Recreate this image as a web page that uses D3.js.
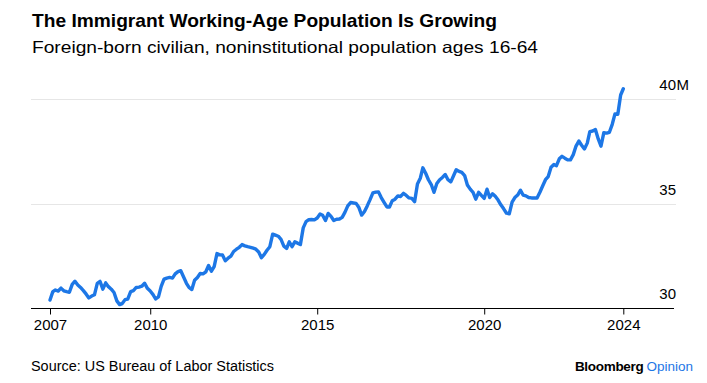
<!DOCTYPE html>
<html>
<head>
<meta charset="utf-8">
<script src="https://cdn.jsdelivr.net/npm/d3@7"></script>
<style>
  html, body { margin: 0; padding: 0; background: #fff; }
  svg { display: block; }
  text { font-family: "Liberation Sans", Arial, sans-serif; }
</style>
</head>
<body>
<svg id="chart" width="707" height="383"></svg>
<script>
// ---- Data (millions), monthly from Jan 2007 to Mar 2024 ----
const startYear = 2007;
const startMonth = 0;
const population = [
  // 2007
  30.40, 30.80, 30.88, 30.83, 30.97, 30.84, 30.80, 30.77, 31.15, 31.30, 31.12, 31.00,
  // 2008
  30.85, 30.68, 30.50, 30.59, 30.65, 31.20, 31.29, 30.92, 31.22, 31.04, 30.92, 30.76,
  // 2009
  30.36, 30.18, 30.23, 30.42, 30.45, 30.80, 30.85, 31.00, 31.02, 31.06, 31.20, 30.96,
  // 2010
  30.83, 30.66, 30.45, 30.55, 31.05, 31.40, 31.45, 31.48, 31.45, 31.65, 31.76, 31.80,
  // 2011
  31.50, 31.20, 31.00, 30.90, 31.35, 31.48, 31.67, 31.65, 31.75, 32.05, 31.78, 32.00,
  // 2012
  32.62, 32.56, 32.55, 32.28, 32.40, 32.50, 32.72, 32.83, 32.92, 33.05, 32.99, 32.95,
  // 2013
  32.92, 32.88, 32.83, 32.70, 32.42, 32.58, 32.78, 32.95, 33.55, 33.50, 33.45, 33.30,
  // 2014
  32.98, 32.87, 33.18, 32.95, 33.18, 33.12, 33.05, 33.85, 34.15, 34.24, 34.25, 34.23,
  // 2015
  34.32, 34.51, 34.45, 34.20, 34.54, 34.40, 34.20, 34.26, 34.27, 34.35, 34.60, 34.90,
  // 2016
  35.06, 35.04, 35.02, 34.82, 34.46, 34.63, 34.90, 35.20, 35.52, 35.56, 35.57, 35.30,
  // 2017
  35.07, 34.85, 34.85, 35.15, 35.22, 35.38, 35.35, 35.50, 35.40, 35.28, 35.26, 35.10,
  // 2018
  35.95, 36.22, 36.72, 36.46, 36.15, 35.92, 35.55, 35.97, 36.15, 36.26, 36.40, 36.15,
  // 2019
  36.05, 36.35, 36.63, 36.55, 36.50, 36.35, 35.90, 35.70, 35.55, 35.22, 35.55, 35.40,
  // 2020
  35.26, 35.70, 35.30, 35.48, 35.36, 35.18, 34.95, 34.76, 34.55, 34.52, 35.08, 35.30,
  // 2021
  35.42, 35.65, 35.42, 35.38, 35.30, 35.28, 35.28, 35.28, 35.55, 35.85, 36.15, 36.30,
  // 2022
  36.75, 36.88, 36.82, 37.15, 37.27, 37.18, 37.10, 37.10, 37.35, 37.76, 38.00, 37.80,
  // 2023
  37.62, 37.90, 38.45, 38.48, 38.55, 38.10, 37.75, 38.40, 38.38, 38.42, 38.80, 39.30,
  // 2024
  39.28, 40.20, 40.50
];
const tickYears = [2007, 2010, 2015, 2020, 2024];
const yTicks = [30, 35, 40];
const yUnit = "M";

const titleText = "The Immigrant Working-Age Population Is Growing";
const subtitleText = "Foreign-born civilian, noninstitutional population ages 16-64";
const sourceText = "Source: US Bureau of Labor Statistics";

// ---- Build data ----
const data = population.map((v, i) => ({ date: new Date(startYear, startMonth + i, 1), value: v }));
const lastDate = data[data.length - 1].date;

const svg = d3.select("#chart");

const x = d3.scaleTime()
  .domain([data[0].date, lastDate])
  .range([50, 623.3]);

const y = d3.scaleLinear()
  .domain([30, 40])
  .range([308.4, 99.2]);

const left = 31, right = 674;

// Gridlines
svg.append("g")
  .selectAll("line")
  .data(yTicks.filter(t => t !== y.domain()[0]))
  .join("line")
  .attr("x1", left).attr("x2", 676)
  .attr("y1", d => Math.round(y(d)) + 0.5)
  .attr("y2", d => Math.round(y(d)) + 0.5)
  .attr("stroke", "#e6e6e6")
  .attr("stroke-width", 1);

// Y labels (right side, above gridline)
const yLab = svg.append("g");
yTicks.forEach((t, i) => {
  const yy = y(t) - 9;
  yLab.append("text")
    .attr("x", 676).attr("y", yy)
    .attr("text-anchor", "end")
    .attr("font-size", 15)
    .attr("fill", "#000")
    .text(t);
  if (i === yTicks.length - 1) {
    yLab.append("text")
      .attr("x", 676.5).attr("y", yy)
      .attr("text-anchor", "start")
      .attr("font-size", 15)
      .attr("fill", "#000")
      .text(yUnit);
  }
});

// X axis
const tickDates = tickYears.map(yr => yr === lastDate.getFullYear() ? lastDate : new Date(yr, 0, 1));
const xAxis = d3.axisBottom(x)
  .tickValues(tickDates)
  .tickFormat((d, i) => String(tickYears[i]))
  .tickSize(6)
  .tickSizeOuter(0)
  .tickPadding(5);

const axisG = svg.append("g")
  .attr("transform", `translate(0,${Math.round(y(30)) + 0.5})`)
  .call(xAxis);
axisG.select(".domain").remove();
axisG.append("line")
  .attr("x1", left).attr("x2", right)
  .attr("y1", 0).attr("y2", 0)
  .attr("stroke", "#000").attr("stroke-width", 1.2);
axisG.selectAll(".tick line").attr("stroke", "#000");
axisG.selectAll(".tick text")
  .attr("font-size", 15)
  .attr("font-family", "Liberation Sans, Arial, sans-serif")
  .attr("fill", "#000");

// Line
const line = d3.line()
  .x(d => x(d.date))
  .y(d => y(d.value));

svg.append("path")
  .datum(data)
  .attr("d", line)
  .attr("fill", "none")
  .attr("stroke", "#1d77e6")
  .attr("stroke-width", 3.4)
  .attr("stroke-linejoin", "round")
  .attr("stroke-linecap", "round");

// Titles
svg.append("text")
  .attr("x", 32).attr("y", 27)
  .attr("font-size", 18.5)
  .attr("font-weight", "bold")
  .attr("fill", "#000")
  .attr("textLength", 465)
  .attr("lengthAdjust", "spacingAndGlyphs")
  .text(titleText);

svg.append("text")
  .attr("x", 32).attr("y", 53)
  .attr("font-size", 16.5)
  .attr("fill", "#000")
  .attr("textLength", 506)
  .attr("lengthAdjust", "spacingAndGlyphs")
  .text(subtitleText);

// Source
svg.append("text")
  .attr("x", 31).attr("y", 371)
  .attr("font-size", 14)
  .attr("fill", "#000")
  .attr("textLength", 243)
  .attr("lengthAdjust", "spacingAndGlyphs")
  .text(sourceText);

// Branding
const brand = svg.append("text")
  .attr("x", 693).attr("y", 371)
  .attr("text-anchor", "end")
  .attr("font-size", 13.5);
brand.append("tspan").attr("font-weight", "bold").attr("fill", "#000").attr("letter-spacing", -0.3).text("Bloomberg");
brand.append("tspan").attr("fill", "#1d77e6").attr("dx", 3).text("Opinion");
</script>
</body>
</html>
